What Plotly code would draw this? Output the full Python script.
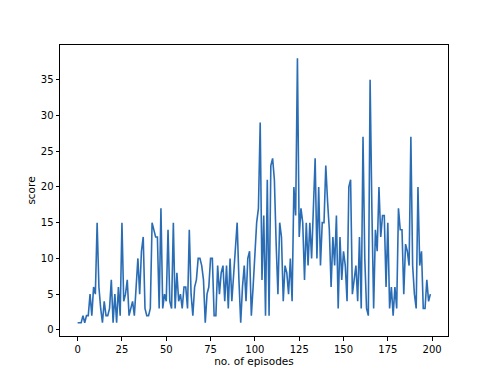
import plotly.graph_objects as go

episodes = list(range(200))
scores = [
    1, 1, 1, 2, 1, 2, 2, 5, 2, 6,        # 0-9
    5, 15, 6, 3, 1, 4, 2, 2, 3, 7,       # 10-19
    1, 5, 1, 6, 2, 15, 4, 5, 7, 2,       # 20-29
    3, 4, 2, 6, 10, 5, 11, 13, 3, 2,     # 30-39
    2, 3, 15, 14, 13, 13, 3, 17, 3, 5,   # 40-49
    4, 14, 4, 3, 15, 3, 8, 4, 5, 3,      # 50-59
    6, 6, 3, 14, 5, 2, 6, 7, 10, 10,     # 60-69
    9, 7, 1, 5, 6, 10, 10, 2, 2, 9,      # 70-79
    5, 8, 9, 4, 9, 3, 10, 4, 8, 11,      # 80-89
    15, 7, 1, 6, 9, 4, 10, 11, 2, 6,     # 90-99
    10, 15, 17, 29, 7, 16, 2, 21, 2, 23, # 100-109
    24, 21, 12, 5, 15, 13, 4, 9, 8, 5,   # 110-119
    10, 4, 20, 16, 38, 13, 17, 15, 7, 15,# 120-129
    9, 15, 10, 17, 24, 10, 20, 9, 15, 15,# 130-139
    23, 18, 14, 6, 13, 9, 16, 3, 13, 7,  # 140-149
    11, 9, 4, 20, 21, 5, 7, 9, 4, 13,    # 150-159
    3, 27, 10, 3, 2, 35, 17, 3, 14, 11,  # 160-169
    20, 13, 16, 16, 6, 15, 3, 6, 2, 6,   # 170-179
    3, 17, 14, 14, 5, 12, 11, 9, 27, 9,  # 180-189
    5, 3, 20, 9, 11, 3, 3, 7, 4, 5,      # 190-199
]

x_ticks = [0, 25, 50, 75, 100, 125, 150, 175, 200]
y_ticks = [0, 5, 10, 15, 20, 25, 30, 35]

fig = go.Figure()
fig.add_trace(go.Scatter(
    x=episodes, y=scores, mode="lines",
    line=dict(color="#2a6db5", width=1.6),
    showlegend=False,
))

axis_common = dict(
    showline=True, linecolor="black", linewidth=1, mirror=True,
    ticks="outside", ticklen=3.5, tickwidth=0.8, tickcolor="black",
    showgrid=False, zeroline=False, automargin=False,
    tickfont=dict(family="DejaVu Sans", size=10, color="black"),
)

fig.update_layout(
    width=498, height=376,
    margin=dict(l=52, r=58, t=37, b=48, autoexpand=False),
    paper_bgcolor="white", plot_bgcolor="white",
    xaxis=dict(range=[-9.95, 208.95], tickvals=x_ticks,
               title=dict(text="no. of episodes", standoff=4,
                          font=dict(family="DejaVu Sans", size=10.5, color="black")),
               **axis_common),
    yaxis=dict(range=[-0.85, 39.85], tickvals=y_ticks,
               title=dict(text="score", standoff=3,
                          font=dict(family="DejaVu Sans", size=10.5, color="black")),
               **axis_common),
)

fig.write_html("out.html")
